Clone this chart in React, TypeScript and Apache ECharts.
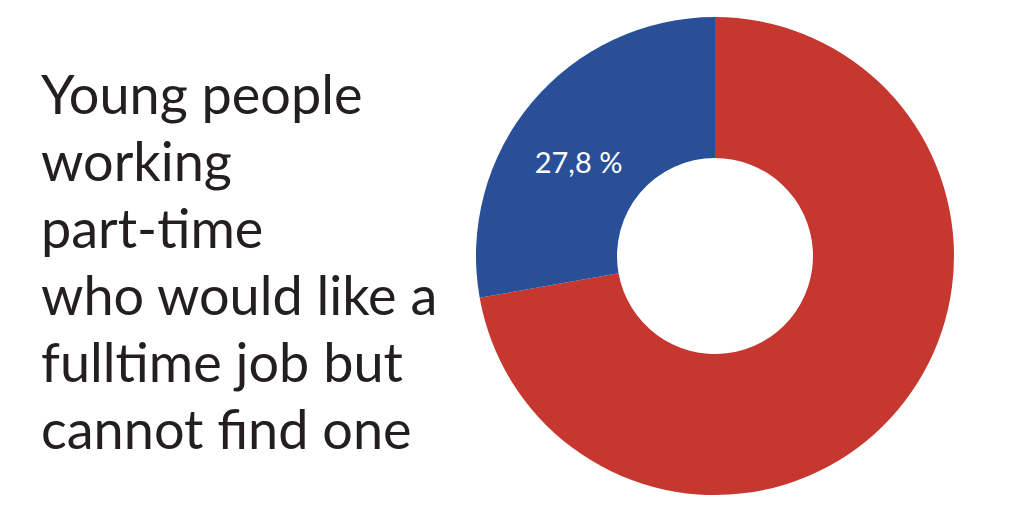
import React, { useEffect, useRef } from "react";
import * as echarts from "echarts";

const categories = ["Other", "Would like fulltime job but cannot find one"];
const values = [72.2, 27.8];
const colors = ["#C6372F", "#284F97"];
const titleLines = [
  "Young people",
  "working",
  "part-time",
  "who would like a",
  "fulltime job but",
  "cannot find one",
];

export default function App() {
  const ref = useRef<HTMLDivElement>(null);
  useEffect(() => {
    if (!ref.current) return;
    const chart = echarts.init(ref.current, null, { renderer: "svg" });
    chart.setOption({
      animation: false,
      backgroundColor: "#ffffff",
      title: {
        text: titleLines.join("\n"),
        left: 36,
        top: 55,
        textStyle: {
          fontFamily: "Lato",
          fontWeight: "normal",
          fontSize: 54,
          lineHeight: 67,
          color: "#231f20",
        },
      },
      series: [
        {
          type: "pie",
          center: [715, 256],
          radius: [98, 239],
          startAngle: 90,
          clockwise: true,
          avoidLabelOverlap: false,
          labelLine: { show: false },
          emphasis: { disabled: true },
          data: categories.map((c, i) => ({
            name: c,
            value: values[i],
            itemStyle: { color: colors[i] },
            label:
              i === 1
                ? {
                    show: true,
                    position: "inside",
                    formatter: (p: any) =>
                      p.value.toFixed(1).replace(".", ",") + " %",
                    color: "#ffffff",
                    fontFamily: "Lato",
                    fontSize: 29,
                    offset: [-5, 16],
                  }
                : { show: false },
          })),
        },
      ],
    });
    return () => chart.dispose();
  }, []);
  return <div ref={ref} style={{ width: 1024, height: 512, margin: -8 }} />;
}
